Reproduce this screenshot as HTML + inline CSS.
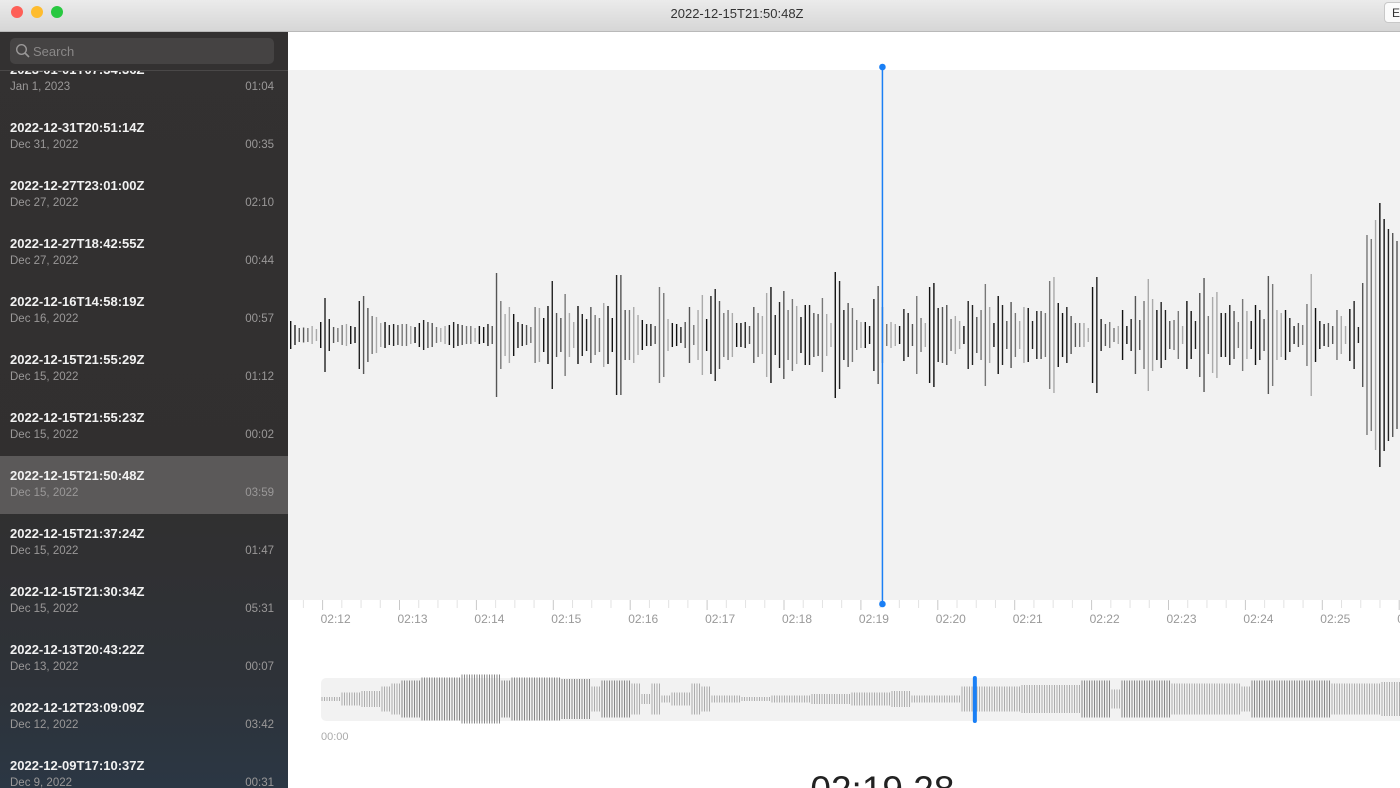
<!DOCTYPE html>
<html><head><meta charset="utf-8">
<style>
*{margin:0;padding:0;box-sizing:border-box}
body{width:1400px;height:788px;overflow:hidden;font-family:"Liberation Sans",sans-serif;background:#fff;position:relative}
#titlebar{position:absolute;left:0;top:0;width:1400px;height:32px;background:linear-gradient(#ebebeb,#d6d6d6);border-bottom:1px solid #b9b9b9}
.light{position:absolute;top:6px;width:12px;height:12px;border-radius:50%}
#title{position:absolute;left:0;width:1474px;top:6px;text-align:center;font-size:13px;color:#333}
#edit{position:absolute;left:1384px;top:2px;width:30px;height:21px;background:#fbfbfb;border:1px solid #c8c8c8;border-radius:4px;font-size:12px;color:#333;padding:3px 0 0 7px}
#sidebar{position:absolute;left:0;top:32px;width:288px;height:756px;background:linear-gradient(#333131 0%,#312f2f 60%,#2e3238 85%,#2b3744 100%);overflow:hidden}
#search{position:absolute;left:10px;top:6px;width:264px;height:26px;background:#454343;border-radius:5px}
#search span{position:absolute;left:23px;top:6px;font-size:13px;color:#8a8888}
#list{position:absolute;left:0;top:38px;width:288px;height:718px;overflow:hidden;border-top:1px solid #4a4848}
.row{position:absolute;left:0;width:288px;height:58px}
.row.sel{background:#5b5959}
.row .t{position:absolute;left:10px;top:12px;font-size:13px;font-weight:bold;color:#f2f2f2}
.row .d{position:absolute;left:10px;top:31px;font-size:11.5px;color:#9a9898}
.row .r{position:absolute;right:14px;top:31px;font-size:11.5px;color:#9a9898}
</style></head><body>
<div id="titlebar">
<div class="light" style="left:11px;background:#fe5f57"></div>
<div class="light" style="left:31px;background:#febc2e"></div>
<div class="light" style="left:51px;background:#28c840"></div>
<div id="title">2022-12-15T21:50:48Z</div>
<div id="edit">Edit</div>
</div>
<div id="sidebar">
<div id="search">
<svg width="16" height="16" style="position:absolute;left:5px;top:5px"><circle cx="6.5" cy="6.5" r="4.8" fill="none" stroke="#9a9898" stroke-width="1.4"/><line x1="10" y1="10" x2="14" y2="14" stroke="#9a9898" stroke-width="1.6"/></svg>
<span>Search</span></div>
<div id="list"></div>
</div>
<svg id="main" width="1112" height="756" style="position:absolute;left:288px;top:32px"></svg>
<script>
const recTitles=["2023-01-01T07:34:36Z","2022-12-31T20:51:14Z","2022-12-27T23:01:00Z","2022-12-27T18:42:55Z","2022-12-16T14:58:19Z","2022-12-15T21:55:29Z","2022-12-15T21:55:23Z","2022-12-15T21:50:48Z","2022-12-15T21:37:24Z","2022-12-15T21:30:34Z","2022-12-13T20:43:22Z","2022-12-12T23:09:09Z","2022-12-09T17:10:37Z"];
const recDates=["Jan 1, 2023","Dec 31, 2022","Dec 27, 2022","Dec 27, 2022","Dec 16, 2022","Dec 15, 2022","Dec 15, 2022","Dec 15, 2022","Dec 15, 2022","Dec 15, 2022","Dec 13, 2022","Dec 12, 2022","Dec 9, 2022"];
const recDurations=["01:04","00:35","02:10","00:44","00:57","01:12","00:02","03:59","01:47","05:31","00:07","03:42","00:31"];
const list=document.getElementById('list');
recTitles.forEach((t,i)=>{
  const r=document.createElement('div');
  r.className='row'+(i===7?' sel':'');
  r.style.top=(i*58-21)+'px';
  
  
  r.innerHTML='<div class="t">'+t+'</div><div class="d">'+recDates[i]+'</div><div class="r">'+recDurations[i]+'</div>';
  list.appendChild(r);
});

// Detail waveform amplitudes (half-height, px units)
const waveAmps=[14,10,7,7.5,7,9,6,13,37,16,8,7,10,11,9,8,34,39,27,19,18,12,13,10,11,10,11,11,9,8,12,15,13,12,8,7,9,10,13,11,10,9,9,7,9,8,11,9,62,34,21,28,
21,13,11,10,8,28,27,17,29,54,22,17,41,22,13,29,21,16,28,20,17,32,29,17,60,60,25,25,28,20,15,11,11,9,48,42,16,12,11,8,13,28,10,25,40,16,39,46,34,22,25,22,12,
12,13,9,28,22,19,42,48,20,33,44,25,36,29,18,30,30,22,21,37,21,12,63,54,25,32,27,15,13,13,9,36,49,28,11,13,11,9,26,22,11,39,17,12,48,52,27,28,30,16,19,14,
9,34,30,18,25,51,28,12,39,30,14,33,22,14,28,27,14,24,24,22,54,58,32,22,28,19,12,12,12,7,48,58,16,11,13,7,9,25,9,16,39,15,34,56,36,25,33,25,14,15,24,9,
34,24,14,42,57,19,38,43,22,22,30,24,13,36,24,14,30,25,16,59,51,25,22,25,17,9,12,10,31,61,27,14,11,12,9,25,19,9,26,34,8,52,100,96,115,132,116,106,102,94];
const waveShades=["#111","#555","#aaa","#222","#777"];
// time axis
const tickLabels=["02:12","02:13","02:14","02:15","02:16","02:17","02:18","02:19","02:20","02:21","02:22","02:23","02:24","02:25","02:26"];
const tickSeconds=[132,133,134,135,136,137,138,139,140,141,142,143,144,145,146];
const playheadSec=139.28;
// overview envelope (every ~10px of full recording)
const overviewAmps=[1,1,4,4,5,5,8,10,12,12,14,14,14,14,16,16,16,16,12,14,14,14,14,14,13,13,13,8,12,12,12,10,3,10,2,4,4,10,8,2,2,2,1,1,1,2,2,2,2,3,3,3,3,4,4,4,4,5,5,2,2,2,2,2,8,8,8,8,8,8,9,9,9,9,9,9,12,12,12,6,12,12,12,12,12,10,10,10,10,10,10,10,8,12,12,12,12,12,12,12,12,10,10,10,10,10,11,11,11,12];
const overviewPlayFrac=0.588;

const NS='http://www.w3.org/2000/svg';
const svg=document.getElementById('main');
function el(tag,attrs,parent){const e=document.createElementNS(NS,tag);for(const k in attrs)e.setAttribute(k,attrs[k]);(parent||svg).appendChild(e);return e;}
const plotTop=38, plotBot=568, centerY=303;
const secToX=s=>34.6+(s-132)*76.9;
const barStep=(1109-2.7)/(waveAmps.length-1);
const barX=i=>2.7+i*barStep;
const ampToH=a=>a;
const bg=el('rect',{x:0,y:plotTop,width:1112,height:plotBot-plotTop,fill:'#f2f2f2'});


waveAmps.forEach((a,i)=>{
  const h=ampToH(a);
  const b=el('rect',{x:barX(i)-0.7,y:centerY-h,width:1.4,height:2*h,fill:waveShades[(i*7+i%3)%5]});
  
  
});
for(let s=131;s<=147;s+=0.25){
  const x=secToX(s); if(x<0||x>1112)continue;
  const major=Math.abs(s-Math.round(s))<1e-6;
  el('line',{x1:x,x2:x,y1:plotBot,y2:plotBot+(major?10:8),stroke:major?'#c8c8c8':'#e2e2e2','stroke-width':1});
}
tickLabels.forEach((l,i)=>{
  const t=el('text',{x:secToX(tickSeconds[i])-2,y:plotBot+23,'font-size':12,fill:'#999','font-family':'Liberation Sans, sans-serif'});
  t.textContent=l;
  
  
});
const px=secToX(playheadSec);
const ph=el('g',{});


el('line',{x1:px,x2:px,y1:35,y2:572,stroke:'#1a7ff5','stroke-width':1.5},ph);
el('circle',{cx:px,cy:35,r:3.3,fill:'#1a7ff5'},ph);
el('circle',{cx:px,cy:572,r:3.3,fill:'#1a7ff5'},ph);
const ovX0=33, ovTop=646, ovH=43, ovC=667, ovStep=10;
const ov=el('rect',{x:ovX0,y:ovTop,width:1100,height:ovH,rx:5,fill:'#f2f2f2'});


overviewAmps.forEach((a,i)=>{
  for(let k=0;k<4;k++){
    const x=ovX0+i*ovStep+k*2.5+1;
    const b=el('line',{x1:x,x2:x,y1:ovC-a*1.5-0.5,y2:ovC+a*1.5+0.5,stroke:a>=12?'#6a6a6a':'#9a9a9a','stroke-width':0.8});
    
    
  }
});
const thumbX=ovX0+overviewPlayFrac*1112;
const th=el('rect',{x:thumbX-2,y:644,width:4,height:47,rx:2,fill:'#1a7ff5'});


const st=el('text',{x:33,y:708,'font-size':11,fill:'#aaa','font-family':'Liberation Sans, sans-serif'});
st.textContent='00:00';


const big=el('text',{x:px,y:770,'font-size':37,'text-anchor':'middle',fill:'#222','font-family':'Liberation Sans, sans-serif'});
big.textContent='02:19.28';


</script>
</body></html>
